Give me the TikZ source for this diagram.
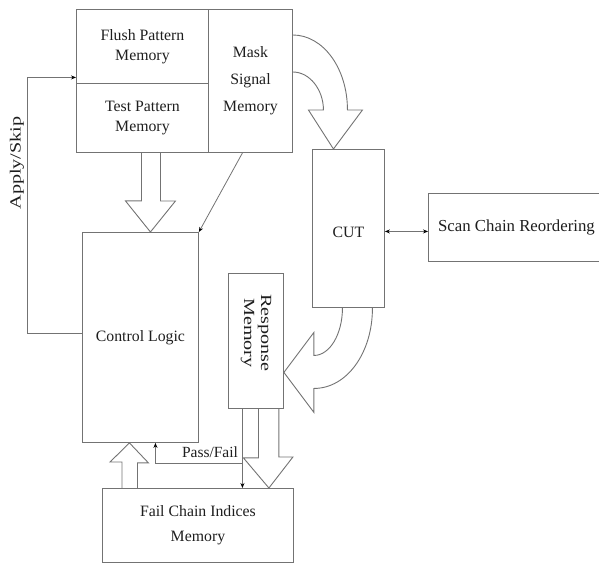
\documentclass[tikz,border=0pt]{standalone}
\usepackage{fontspec}
\setmainfont{Liberation Serif}
\usetikzlibrary{arrows.meta,calc}
\definecolor{lineGray}{RGB}{115,115,115}
\definecolor{inkBlack}{RGB}{30,30,30}
\tikzset{
  mem block/.style={draw=lineGray,line width=.9pt,inner sep=0pt,align=center,text=inkBlack,font=\fontsize{15.8}{20}\selectfont,anchor=north west},
  sig line/.style={draw=lineGray,line width=.8pt},
  sig arrow/.style={sig line,-{Stealth[length=5pt,width=4pt,color=black]}},
  sig both/.style={sig line,{Stealth[length=5pt,width=4pt,color=black]}-{Stealth[length=5pt,width=4pt,color=black]}},
  fat arrow/.style={draw=lineGray,line width=.9pt,line join=miter},
  side label/.style={text=inkBlack,font=\fontsize{15.5}{17}\selectfont,align=center}
}
\begin{document}
\begin{tikzpicture}[x=1pt,y=-1pt]
  \useasboundingbox (0,0) rectangle (599,562);
  % memories
  \node[mem block,minimum width=132pt,minimum height=74pt] (fpm) at (76,9) {Flush Pattern\\Memory};
  \node[mem block,minimum width=132pt,minimum height=69pt] (tpm) at (76,83) {Test Pattern\\Memory};
  \node[mem block,minimum width=84pt,minimum height=143pt,font=\fontsize{15.8}{27}\selectfont] (msm) at (208,9) {Mask\\Signal\\Memory};
  % logic and circuit
  \node[mem block,minimum width=116pt,minimum height=210pt] (ctrl) at (82,232) {Control Logic};
  \node[mem block,minimum width=72pt,minimum height=158pt] (cut) at (312,149) {\\[-2pt]CUT};
  \node[mem block,minimum width=176pt,minimum height=68pt,font=\fontsize{16.8}{20}\selectfont] (scr) at (428,193) {Scan Chain Reordering};
  \node[mem block,minimum width=55pt,minimum height=135pt] (resp) at (228,273) {};
  \node[side label,rotate=-90,xscale=1.3] (resplbl) at ($(resp.center)+(0,-8)$) {Response\\Memory};
  \node[mem block,minimum width=191pt,minimum height=74pt,font=\fontsize{15.8}{25}\selectfont] (fcim) at (102,488) {Fail Chain Indices\\Memory};
  % hollow arrows
  \draw[fat arrow] ([xshift=-1pt]tpm.south) -- ++(0,48) -- ++(-16,0) -- ([xshift=10pt]ctrl.north) -- ++(25,-31) -- ++(-15,0) -- ++(0,-48);
  \draw[fat arrow] ([xshift=20pt]fcim.north west) -- ++(0,-26) -- ++(-12,0) -- ([xshift=-11pt]ctrl.south) -- ++(19,20) -- ++(-11,0) -- ++(0,26);
  \draw[fat arrow] ([xshift=2.5pt]resp.south) -- ++(0,49) -- ++(-15,0) -- ([xshift=-25pt]fcim.north east) -- ++(24,-31) -- ++(-14,0) -- ++(0,-49);
  \draw[fat arrow] ($(msm.north east)+(0,26)$) .. controls +(30,0) and +(0,-42) .. ($(cut.north)+(-1,-39)$)
    -- ++(15,0) -- ($(cut.north)+(-15,0)$) -- ($(cut.north)+(-40,-39)$) -- ++(15,0)
    .. controls +(0,-20) and +(17,0) .. ($(msm.north east)+(0,63)$);
  \draw[fat arrow] ($(cut.south)+(24,0)$) .. controls +(0,45) and +(33,0) .. ($(resp.east)+(30,47.5)$)
    -- ++(0,24) -- ($(resp.east)+(0,31.5)$) -- ($(resp.east)+(30,-8.5)$) -- ++(0,23)
    .. controls +(16,0) and +(0,26) .. ($(cut.south)+(-6,0)$);
  % signal lines
  \draw[sig arrow] ([yshift=4pt]ctrl.west) -- ++(-55,0) |- ([yshift=-31pt]fpm.west);
  \node[side label,rotate=90,xscale=1.3] (apsk) at (17,163) {Apply/Skip};
  \draw[sig arrow] ([xshift=-8pt]msm.south) -- (ctrl.north east);
  \coordinate (cute) at ([yshift=-3pt]cut.east);
  \draw[sig both] (cute) -- (cute -| scr.west);
  \coordinate (pf) at ([xshift=-13.5pt]resp.south);
  \coordinate (pfj) at ($(pf)+(0,54)$);
  \draw[sig arrow] (pf) -- (pf |- fcim.north);
  \draw[sig arrow] (pfj) -| ([xshift=15pt]ctrl.south);
  \node[side label,anchor=south] (pflbl) at (210,461) {Pass/Fail};
\end{tikzpicture}
\end{document}
